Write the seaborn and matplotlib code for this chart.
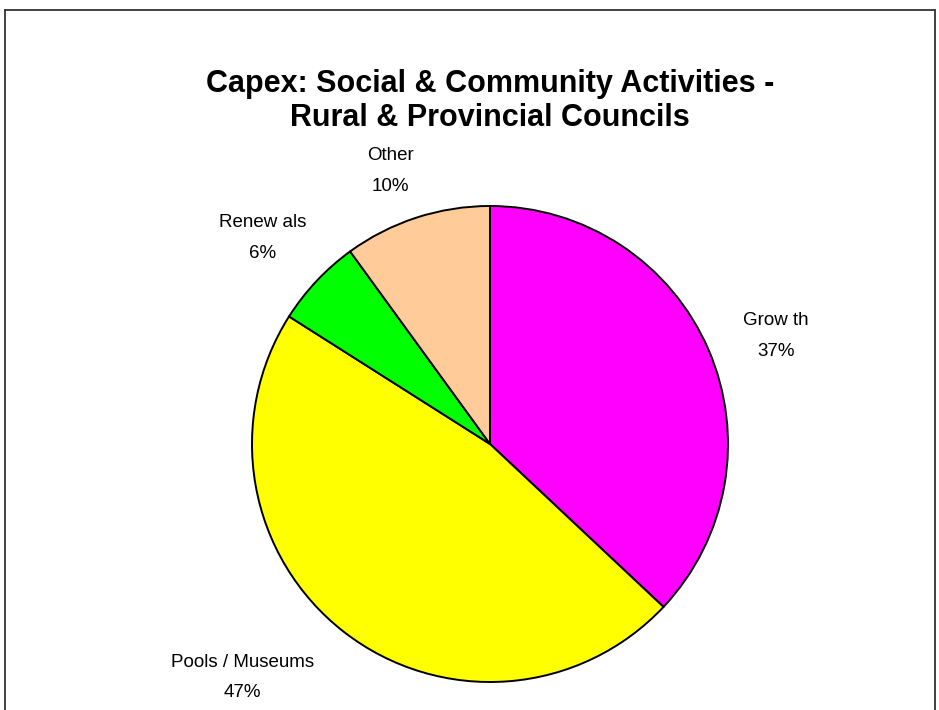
import matplotlib
matplotlib.use("Agg")
import matplotlib.pyplot as plt
import numpy as np
import seaborn as sns
from matplotlib.lines import Line2D

sns.set_style("white")
plt.rcParams["font.family"] = ["Liberation Sans", "DejaVu Sans"]
plt.rcParams["text.color"] = "black"

# Slice data, clockwise from 12 o'clock
categories = ["Grow th", "Pools / Museums", "Renew als", "Other"]
shares = [37, 47, 6, 10]
colors = ["#FF00FF", "#FFFF00", "#00FF00", "#FFCC99"]
title_lines = ["Capex: Social & Community Activities -", "Rural & Provincial Councils"]

W, H, DPI = 939, 710, 100
fig = plt.figure(figsize=(W / DPI, H / DPI), dpi=DPI)
ax = fig.add_axes([0, 0, 1, 1])

# pie centre / radius in pixels
cx, cy, rad = 490, 444, 238

wedges, _ = ax.pie(
    shares, colors=colors, startangle=90, counterclock=False,
    wedgeprops=dict(edgecolor="black", linewidth=1.4),
    radius=1.0, center=(0, 0), frame=False,
)
ax.set_xlim(-cx / rad, (W - cx) / rad)
ax.set_ylim(-(H - cy) / rad, cy / rad)
ax.set_aspect("equal")
ax.axis("off")

# label distances and angular nudges per slice
label_dist = [1.285, 1.43, 1.29, 1.22]
angle_shift = [-2.7, -8.9, 1.0, 2.0]
for w, name, val, d, sh in zip(wedges, categories, shares, label_dist, angle_shift):
    mid = np.deg2rad((w.theta1 + w.theta2) / 2 + sh)
    ax.text(d * np.cos(mid), d * np.sin(mid), f"{name}\n{val}%",
            ha="center", va="center", fontsize=13.5, linespacing=2.05,
            color="black")

# title
fig.text(cx / W, 1 - 84 / H, title_lines[0], ha="center", va="center",
         fontsize=22, fontweight="bold", color="black")
fig.text(cx / W, 1 - 118 / H, title_lines[1], ha="center", va="center",
         fontsize=22, fontweight="bold", color="black")

# chart-area border (open at the bottom)
bx0, bx1, by = 5 / W, 935 / W, 1 - 10 / H
for xs, ys in [([bx0, bx0], [0, by]), ([bx0, bx1], [by, by]), ([bx1, bx1], [by, 0])]:
    fig.add_artist(Line2D(xs, ys, transform=fig.transFigure, color="#333333",
                          linewidth=1.3))

fig.savefig("out.png", dpi=DPI)
